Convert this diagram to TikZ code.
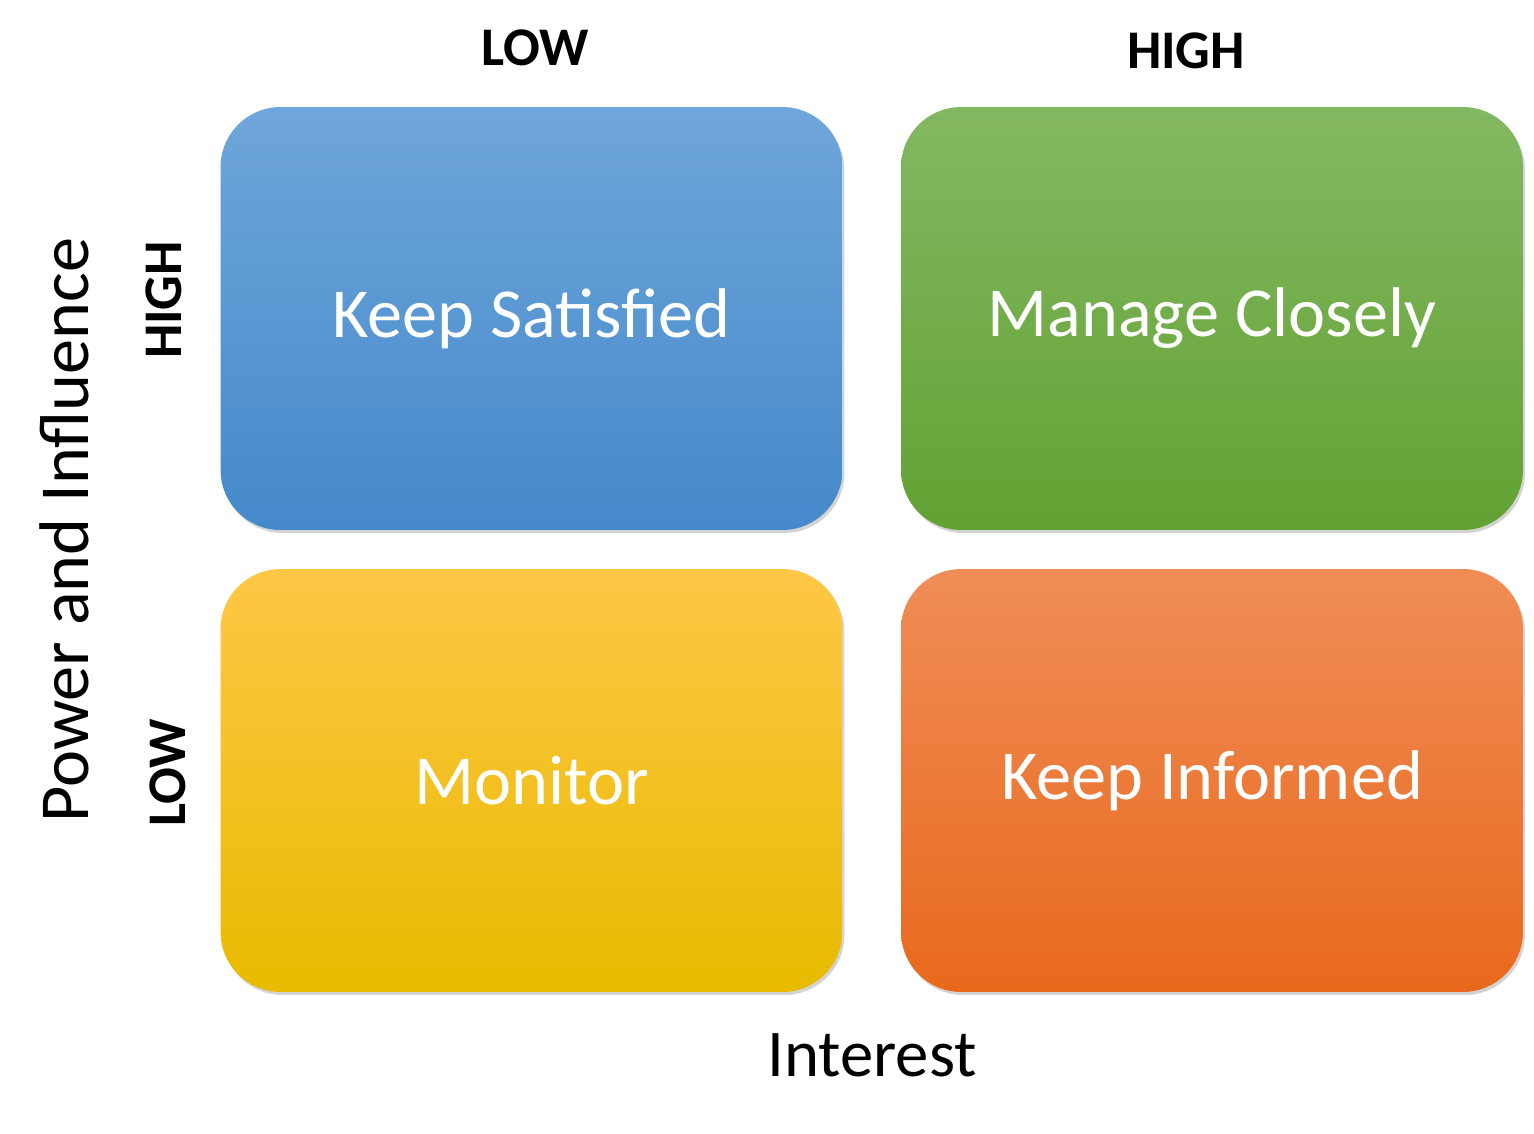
\documentclass[tikz,border=0pt]{standalone}
\usepackage{fontspec}
\setmainfont{Carlito}
\usetikzlibrary{positioning,shadows}
\definecolor{bluetop}{HTML}{6FA6DB}
\definecolor{bluebot}{HTML}{4489CA}
\definecolor{greentop}{HTML}{83B862}
\definecolor{greenbot}{HTML}{62A233}
\definecolor{yellowtop}{HTML}{FEC746}
\definecolor{yellowbot}{HTML}{E8BB00}
\definecolor{orangetop}{HTML}{F08D57}
\definecolor{orangebot}{HTML}{E8691C}
\tikzset{
  quad/.style={rounded corners=1.2cm, minimum width=12.44cm, minimum height=8.46cm,
    text=white, font=\fontsize{40}{44}\selectfont,
    drop shadow={shadow xshift=0.04cm, shadow yshift=-0.06cm, opacity=0.35}},
  level/.style={font=\bfseries\fontsize{31}{34}\selectfont},
  axis/.style={font=\fontsize{38}{42}\selectfont}
}
\begin{document}
\begin{tikzpicture}[x=0.02cm,y=-0.02cm]
  \useasboundingbox (0,0) rectangle (1534,1133);
  \node[quad, top color=bluetop, bottom color=bluebot] (KS) at (531.5,318.5) {Keep Satisfied};
  \node[quad, top color=greentop, bottom color=greenbot] (MC) at (1212,318.5) {Manage Closely};
  \node[quad, top color=yellowtop, bottom color=yellowbot] (MO) at (531.5,780.5) {Monitor};
  \node[quad, top color=orangetop, bottom color=orangebot] (KI) at (1212,780.5) {Keep Informed};
  \node[level] (low) at (535,48) {LOW};
  \node[level] (high) at (1186,51) {HIGH};
  \node[level, rotate=90] (vhigh) at (164,300) {HIGH};
  \node[level, rotate=90] (vlow) at (168,773) {LOW};
  \node[axis] (interest) at (872,1055) {Interest};
  \node[axis, rotate=90, font=\fontsize{40}{44}\selectfont] (power) at (64,530) {Power and Influence};
\end{tikzpicture}
\end{document}
